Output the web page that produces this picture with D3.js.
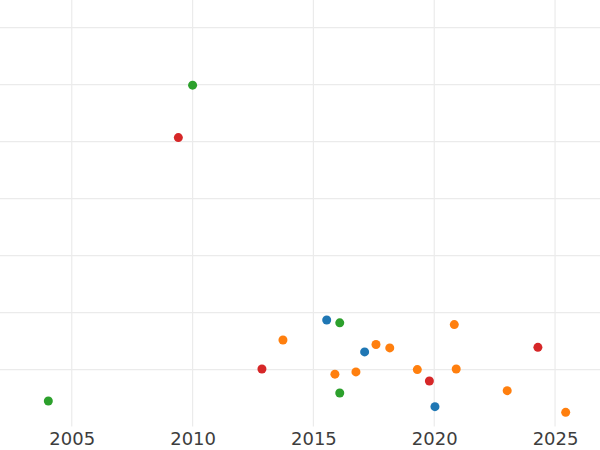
<!DOCTYPE html>
<html>
<head>
<meta charset="utf-8">
<script src="https://cdn.jsdelivr.net/npm/d3@7"></script>
<style>
  body { margin: 0; background: #fff; }
  svg { display: block; font-family: "DejaVu Sans", sans-serif; }
</style>
</head>
<body>
<div id="chart"></div>
<script>
// values: [year, value]
const blueSeries = [[2015.55, 1.87], [2017.12, 1.31], [2020.03, 0.35]];
const orangeSeries = [
	[2013.74, 1.52], [2015.89, 0.92], [2016.76, 0.96], [2017.59, 1.44], [2018.16, 1.38],
	[2019.30, 1.00], [2020.83, 1.79], [2020.91, 1.01], [2023.02, 0.63], [2025.44, 0.25]
];
const greenSeries = [[2004.03, 0.45], [2010.0, 5.99], [2016.09, 1.82], [2016.09, 0.59]];
const redSeries = [[2009.41, 5.07], [2012.87, 1.01], [2019.80, 0.80], [2024.29, 1.39]];

const xTicks = [2005, 2010, 2015, 2020, 2025];
const yTicks = [1, 2, 3, 4, 5, 6, 7];

const series = [
	{ color: '#1f77b4', values: blueSeries },
	{ color: '#ff7f0e', values: orangeSeries },
	{ color: '#2ca02c', values: greenSeries },
	{ color: '#d62728', values: redSeries }
];

const width = 600, height = 450;
const plotBottom = 426.6;

const x = d3.scaleLinear().domain([2002.03, 2026.86]).range([0, width]);
const y = d3.scaleLinear().domain([0, 7.484]).range([plotBottom, 0]);

const svg = d3.select('#chart').append('svg')
	.attr('width', width)
	.attr('height', height);

// grid
svg.append('g')
	.selectAll('line')
	.data(yTicks)
	.enter()
	.append('line')
	.attr('x1', 0)
	.attr('x2', width)
	.attr('y1', d => y(d))
	.attr('y2', d => y(d))
	.attr('stroke', '#ebebeb')
	.attr('stroke-width', 1.2);

svg.append('g')
	.selectAll('line')
	.data(xTicks)
	.enter()
	.append('line')
	.attr('x1', d => x(d))
	.attr('x2', d => x(d))
	.attr('y1', 0)
	.attr('y2', plotBottom)
	.attr('stroke', '#ebebeb')
	.attr('stroke-width', 1.2);

// x axis labels
const xAxis = d3.axisBottom(x).tickValues(xTicks).tickFormat(d3.format('d')).tickSize(0).tickPadding(6);
const $xAxis = svg.append('g')
	.attr('transform', `translate(0,${plotBottom})`)
	.call(xAxis);
$xAxis.select('.domain').remove();
$xAxis.selectAll('text')
	.attr('fill', '#3d3d3d')
	.style('font-size', '18px')
	.style('font-family', '"DejaVu Sans", sans-serif');

// points
series.forEach(s => {
	svg.append('g')
		.selectAll('circle')
		.data(s.values)
		.enter()
		.append('circle')
		.attr('cx', d => x(d[0]))
		.attr('cy', d => y(d[1]))
		.attr('r', 4.5)
		.attr('fill', s.color);
});
</script>
</body>
</html>
